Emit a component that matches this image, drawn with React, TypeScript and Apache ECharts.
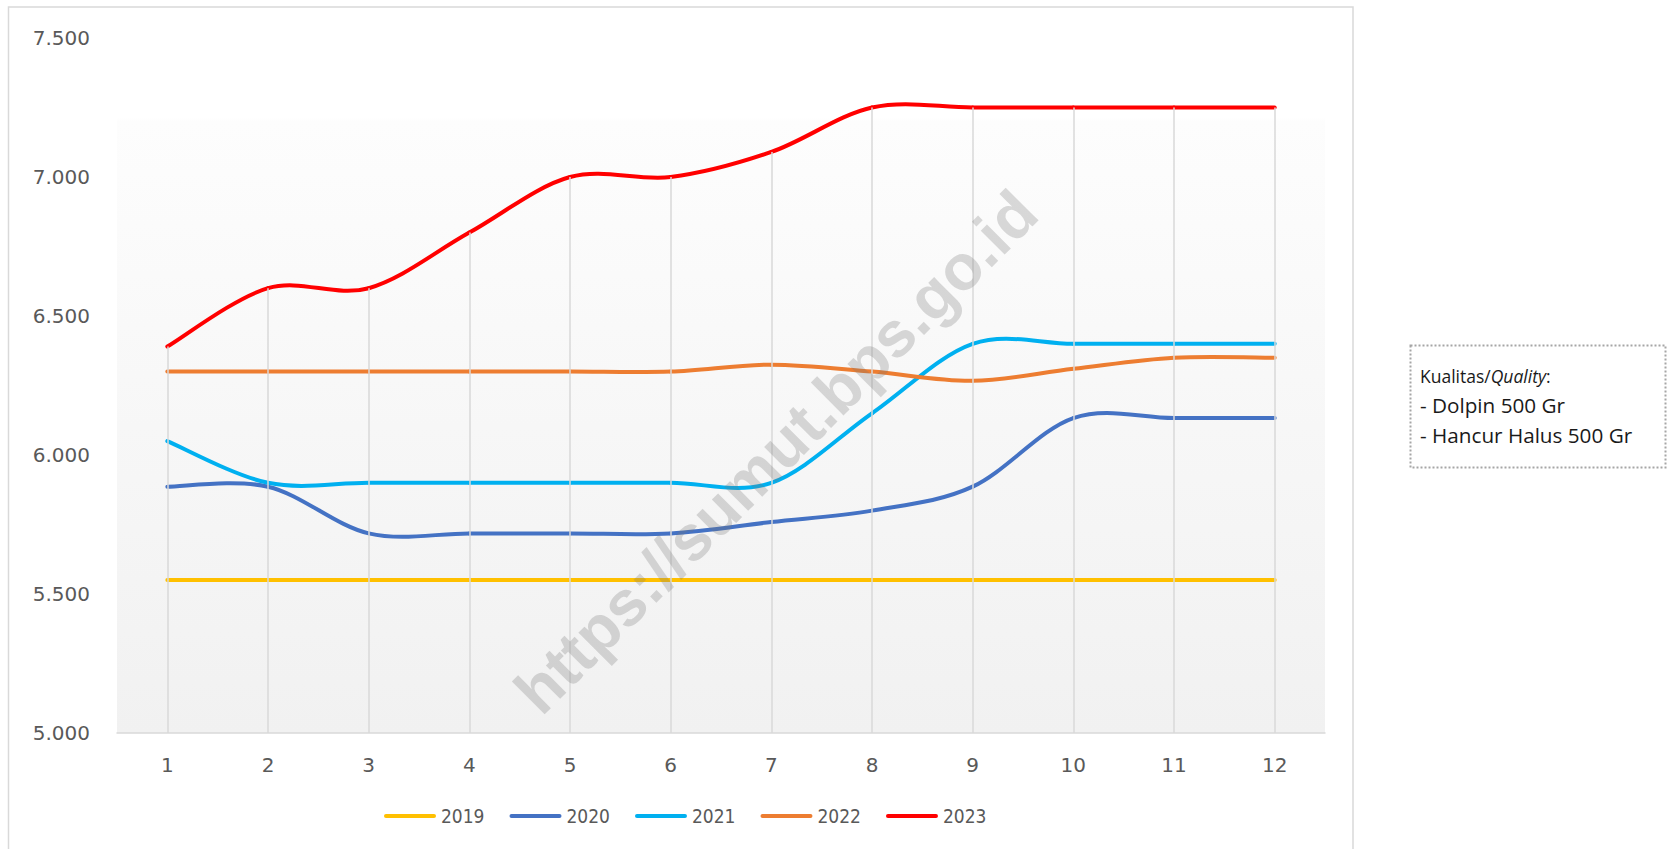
import React, { useEffect, useRef } from "react";
import * as echarts from "echarts";

const categories = ["1", "2", "3", "4", "5", "6", "7", "8", "9", "10", "11", "12"];
const s2019 = [5550, 5550, 5550, 5550, 5550, 5550, 5550, 5550, 5550, 5550, 5550, 5550];
const s2020 = [5886, 5886, 5718, 5718, 5718, 5718, 5759, 5800, 5886, 6133, 6133, 6133];
const s2021 = [6050, 5900, 5900, 5900, 5900, 5900, 5900, 6150, 6400, 6400, 6400, 6400];
const s2022 = [6300, 6300, 6300, 6300, 6300, 6300, 6325, 6300, 6267, 6310, 6350, 6350];
const s2023 = [6390, 6600, 6600, 6800, 7000, 7000, 7090, 7250, 7250, 7250, 7250, 7250];
const seriesNames = ["2019", "2020", "2021", "2022", "2023"];
const seriesColors = ["#FFC000", "#4472C4", "#00B0F0", "#ED7D31", "#FF0000"];
const yMin = 5000;
const yMax = 7500;
const yStep = 500;
const noteTitle = ["Kualitas/", "Quality", ":"];
const noteLines = ["- Dolpin 500 Gr", "- Hancur Halus 500 Gr"];
const watermark = "https://sumut.bps.go.id";

// Excel-like smoothed line (Catmull-Rom style Bezier) drawn through the axis scales
function smoothRenderer(values: number[], color: string) {
  return (params: any, api: any) => {
    if (params.dataIndex !== 0) return null;
    const pts = values.map((v, i) => api.coord([i, v]));
    const n = pts.length;
    const children: any[] = [];
    for (let i = 0; i < n - 1; i++) {
      const p0 = pts[Math.max(0, i - 1)];
      const p1 = pts[i];
      const p2 = pts[i + 1];
      const p3 = pts[Math.min(n - 1, i + 2)];
      children.push({
        type: "bezierCurve",
        shape: {
          x1: p1[0],
          y1: p1[1],
          cpx1: p1[0] + (p2[0] - p0[0]) / 6,
          cpy1: p1[1] + (p2[1] - p0[1]) / 6,
          cpx2: p2[0] - (p3[0] - p1[0]) / 6,
          cpy2: p2[1] - (p3[1] - p1[1]) / 6,
          x2: p2[0],
          y2: p2[1],
        },
        style: { stroke: color, lineWidth: 4, fill: "none", lineCap: "round", lineJoin: "round" },
      });
    }
    return { type: "group", children };
  };
}

export default function App() {
  const ref = useRef<HTMLDivElement>(null);
  useEffect(() => {
    if (!ref.current) return;
    const chart = echarts.init(ref.current, null, { renderer: "svg" });
    const all = [s2019, s2020, s2021, s2022, s2023];
    const maxPerCat = categories.map((_, i) => Math.max(...all.map((s) => s[i])));
    const fmt = (v: number) => {
      const s = String(Math.round(v));
      return s.slice(0, -3) + "." + s.slice(-3);
    };
    const lineSeries = all.map((data, k) => ({
      name: seriesNames[k],
      type: "custom",
      coordinateSystem: "cartesian2d",
      data: data.map((v, i) => [i, v]),
      encode: { x: 0, y: 1 },
      clip: false,
      silent: true,
      z: 3,
      itemStyle: { color: seriesColors[k] },
      renderItem: smoothRenderer(data, seriesColors[k]),
    }));
    chart.setOption({
      animation: false,
      backgroundColor: "#ffffff",
      grid: { left: 117, right: 342, top: 38, bottom: 116, containLabel: false },
      legend: {
        data: seriesNames,
        left: 384,
        top: 805,
        orient: "horizontal",
        itemWidth: 52,
        itemHeight: 4,
        itemGap: 25,
        padding: 0,
        icon: "path://M2 0H50A2 2 0 0 1 50 4H2A2 2 0 0 1 2 0Z",
        textStyle: {
          fontFamily: "'DejaVu Sans Condensed', 'Liberation Sans Narrow', 'DejaVu Sans', sans-serif",
          fontSize: 19,
          color: "#595959",
          lineHeight: 22,
        },
      },
      xAxis: {
        type: "category",
        data: categories,
        boundaryGap: true,
        axisLine: { show: true, lineStyle: { color: "#d9d9d9", width: 1.5 } },
        axisTick: { show: false },
        splitLine: { show: false },
        axisLabel: {
          margin: 22,
          fontSize: 20,
          fontFamily: "'DejaVu Sans', sans-serif",
          color: "#595959",
        },
      },
      yAxis: {
        type: "value",
        min: yMin,
        max: yMax,
        interval: yStep,
        axisLine: { show: false },
        axisTick: { show: false },
        splitLine: { show: false },
        axisLabel: {
          margin: 27,
          fontSize: 20,
          fontFamily: "'DejaVu Sans', sans-serif",
          color: "#595959",
          formatter: fmt,
        },
      },
      graphic: [
        {
          type: "rect",
          z: -20,
          silent: true,
          shape: { x: 8.5, y: 7, width: 1344.5, height: 900 },
          style: { fill: "#ffffff", stroke: "#d9d9d9", lineWidth: 1.5 },
        },
        {
          type: "rect",
          z: -10,
          silent: true,
          shape: { x: 117, y: 38, width: 1208, height: 695 },
          style: {
            fill: {
              type: "linear",
              x: 0,
              y: 0,
              x2: 0,
              y2: 1,
              colorStops: [
                { offset: 0, color: "#ffffff" },
                { offset: 0.115, color: "#ffffff" },
                { offset: 0.12, color: "#fdfdfd" },
                { offset: 1, color: "#f1f1f1" },
              ],
            },
          },
        },
        {
          type: "text",
          z: 100,
          silent: true,
          x: 776,
          y: 452,
          rotation: Math.PI / 4,
          style: {
            text: watermark,
            x: 0,
            y: 0,
            align: "center",
            verticalAlign: "middle",
            fontFamily: "'Liberation Sans', Arial, sans-serif",
            fontWeight: "bold",
            fontSize: 64,
            fill: "rgba(120,120,120,0.27)",
          },
        },
        {
          type: "rect",
          z: 10,
          silent: true,
          shape: { x: 1410.5, y: 345.5, width: 255, height: 122 },
          style: { fill: "#ffffff", stroke: "#a6a6a6", lineWidth: 2, lineDash: [2, 2] },
        },
        {
          type: "text",
          z: 11,
          silent: true,
          x: 1420,
          y: 376,
          style: {
            text: "{a|" + noteTitle[0] + "}{b|" + noteTitle[1] + "}{a|" + noteTitle[2] + "}",
            verticalAlign: "middle",
            rich: {
              a: { fontFamily: "'Open Sans', sans-serif", fontSize: 17.5, fill: "#1a1a1a" },
              b: { fontFamily: "'Open Sans', sans-serif", fontSize: 17.5, fontStyle: "italic", fill: "#1a1a1a" },
            },
          },
        },
        {
          type: "text",
          z: 11,
          silent: true,
          x: 1420,
          y: 405,
          style: {
            text: noteLines[0],
            verticalAlign: "middle",
            fontFamily: "'Open Sans', sans-serif",
            fontSize: 20.7,
            fill: "#1a1a1a",
          },
        },
        {
          type: "text",
          z: 11,
          silent: true,
          x: 1420,
          y: 435,
          style: {
            text: noteLines[1],
            verticalAlign: "middle",
            fontFamily: "'Open Sans', sans-serif",
            fontSize: 20.7,
            fill: "#1a1a1a",
          },
        },
      ],
      series: [
        {
          name: "drop",
          type: "line",
          data: maxPerCat,
          symbol: "none",
          silent: true,
          z: 1,
          lineStyle: { opacity: 0 },
          markLine: {
            silent: true,
            symbol: ["none", "none"],
            label: { show: false },
            lineStyle: { color: "#d9d9d9", width: 1.5, type: "solid" },
            data: maxPerCat.map((v, i) => [
              { coord: [categories[i], v] },
              { coord: [categories[i], yMin] },
            ]),
          },
        },
        ...lineSeries,
      ],
    });
    return () => chart.dispose();
  }, []);
  return (
    <div
      ref={ref}
      style={{ position: "fixed", left: 0, top: 0, width: 1667, height: 849 }}
    />
  );
}
